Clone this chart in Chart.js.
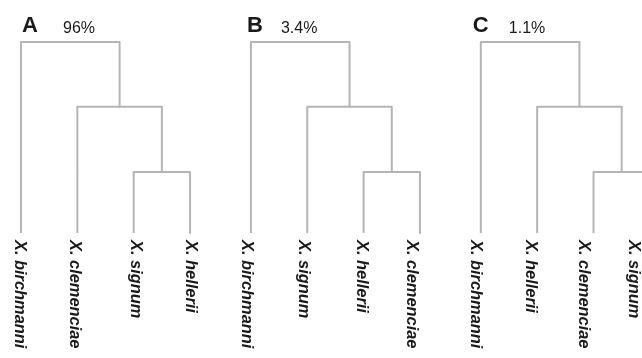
<!DOCTYPE html>
<html>
<head>
<meta charset="utf-8">
<script src="https://cdn.jsdelivr.net/npm/chart.js@4/dist/chart.umd.min.js"></script>
<style>
  html, body { margin: 0; padding: 0; background: #fff; }
  #wrap { width: 642px; height: 358px; overflow: hidden; }
</style>
</head>
<body>
<div id="wrap"><canvas id="canvas" width="642" height="358"></canvas></div>
<script>
// panel letters and the support value printed next to each
const panelLetters = ["A", "B", "C"];
const supportLabels = ["96%", "3.4%", "1.1%"];

// leaf order in each tree, left to right
const leafNames = [
  ["X. birchmanni", "X. clemenciae", "X. signum", "X. hellerii"],
  ["X. birchmanni", "X. signum", "X. hellerii", "X. clemenciae"],
  ["X. birchmanni", "X. hellerii", "X. clemenciae", "X. signum"],
];

// same topology in all three: (0,(1,(2,3)))
// each merge joins two items: leaf index, or "m" + merge index
const merges = [
  ["2", "3"],
  ["1", "m0"],
  ["0", "m1"],
];
const mergeHeights = [1.0, 2.07, 3.13];

// layout
const PANEL_STEP = 4.08;     // leaf units between panels
const LEAF_PX = 56.35;
const HEIGHT_PX = 61;
const LEAF0_PX = 21;
const BASE_PX = 233;
const titleDx = [1, -4, -8];
const supportDx = [42, 30, 28];
// labels sit a little off their stems in the original
const labelDx = [
  [-1, -3, 2, 0],
  [-4, -4, -2, -8],
  [-5, -7, -10, -16],
];

const lineColor = "#b5b5b5";

const datasets = [];
leafNames.forEach((leaves, p) => {
  const off = p * PANEL_STEP;
  const pos = {};
  leaves.forEach((_, i) => { pos[String(i)] = { x: off + i, y: 0 }; });
  merges.forEach(([a, b], m) => {
    const A = pos[a], B = pos[b];
    const h = mergeHeights[m];
    datasets.push({
      data: [
        { x: A.x, y: A.y },
        { x: A.x, y: h },
        { x: B.x, y: h },
        { x: B.x, y: B.y },
      ],
      borderColor: lineColor,
      borderWidth: 2,
      borderJoinStyle: "round",
      borderCapStyle: "butt",
      pointRadius: 0,
      fill: false,
      tension: 0,
    });
    pos["m" + m] = { x: (A.x + B.x) / 2, y: h };
  });
});

const xMin = -LEAF0_PX / LEAF_PX;
const xMax = xMin + 642 / LEAF_PX;
const yMax = BASE_PX / HEIGHT_PX;
const yMin = -(358 - BASE_PX) / HEIGHT_PX;

const textPlugin = {
  id: "treeText",
  afterDraw(chart) {
    const ctx = chart.ctx;
    const xs = chart.scales.x, ys = chart.scales.y;
    ctx.save();
    ctx.fillStyle = "#1a1a1a";
    leafNames.forEach((leaves, p) => {
      const off = p * PANEL_STEP;
      const x0 = xs.getPixelForValue(off);
      const top = ys.getPixelForValue(mergeHeights[2]);

      ctx.textAlign = "left";
      ctx.textBaseline = "alphabetic";
      ctx.font = "bold 22px 'Liberation Sans', Arial, sans-serif";
      ctx.fillText(panelLetters[p], x0 + titleDx[p], top - 10);
      ctx.font = "16px 'Liberation Sans', Arial, sans-serif";
      ctx.fillText(supportLabels[p], x0 + supportDx[p], top - 9.5);

      ctx.font = "italic bold 16.4px 'Liberation Sans', Arial, sans-serif";
      ctx.textBaseline = "middle";
      leaves.forEach((name, i) => {
        const px = xs.getPixelForValue(off + i) + labelDx[p][i];
        const py = ys.getPixelForValue(0) + 7;
        ctx.save();
        ctx.translate(px, py);
        ctx.rotate(Math.PI / 2);
        ctx.fillText(name, 0, 0);
        ctx.restore();
      });
    });
    ctx.restore();
  },
};

new Chart(document.getElementById("canvas"), {
  type: "line",
  data: { datasets },
  options: {
    responsive: false,
    animation: false,
    layout: { padding: 0 },
    plugins: { legend: { display: false }, tooltip: { enabled: false } },
    scales: {
      x: { type: "linear", min: xMin, max: xMax, display: false },
      y: { type: "linear", min: yMin, max: yMax, display: false },
    },
  },
  plugins: [textPlugin],
});
</script>
</body>
</html>
